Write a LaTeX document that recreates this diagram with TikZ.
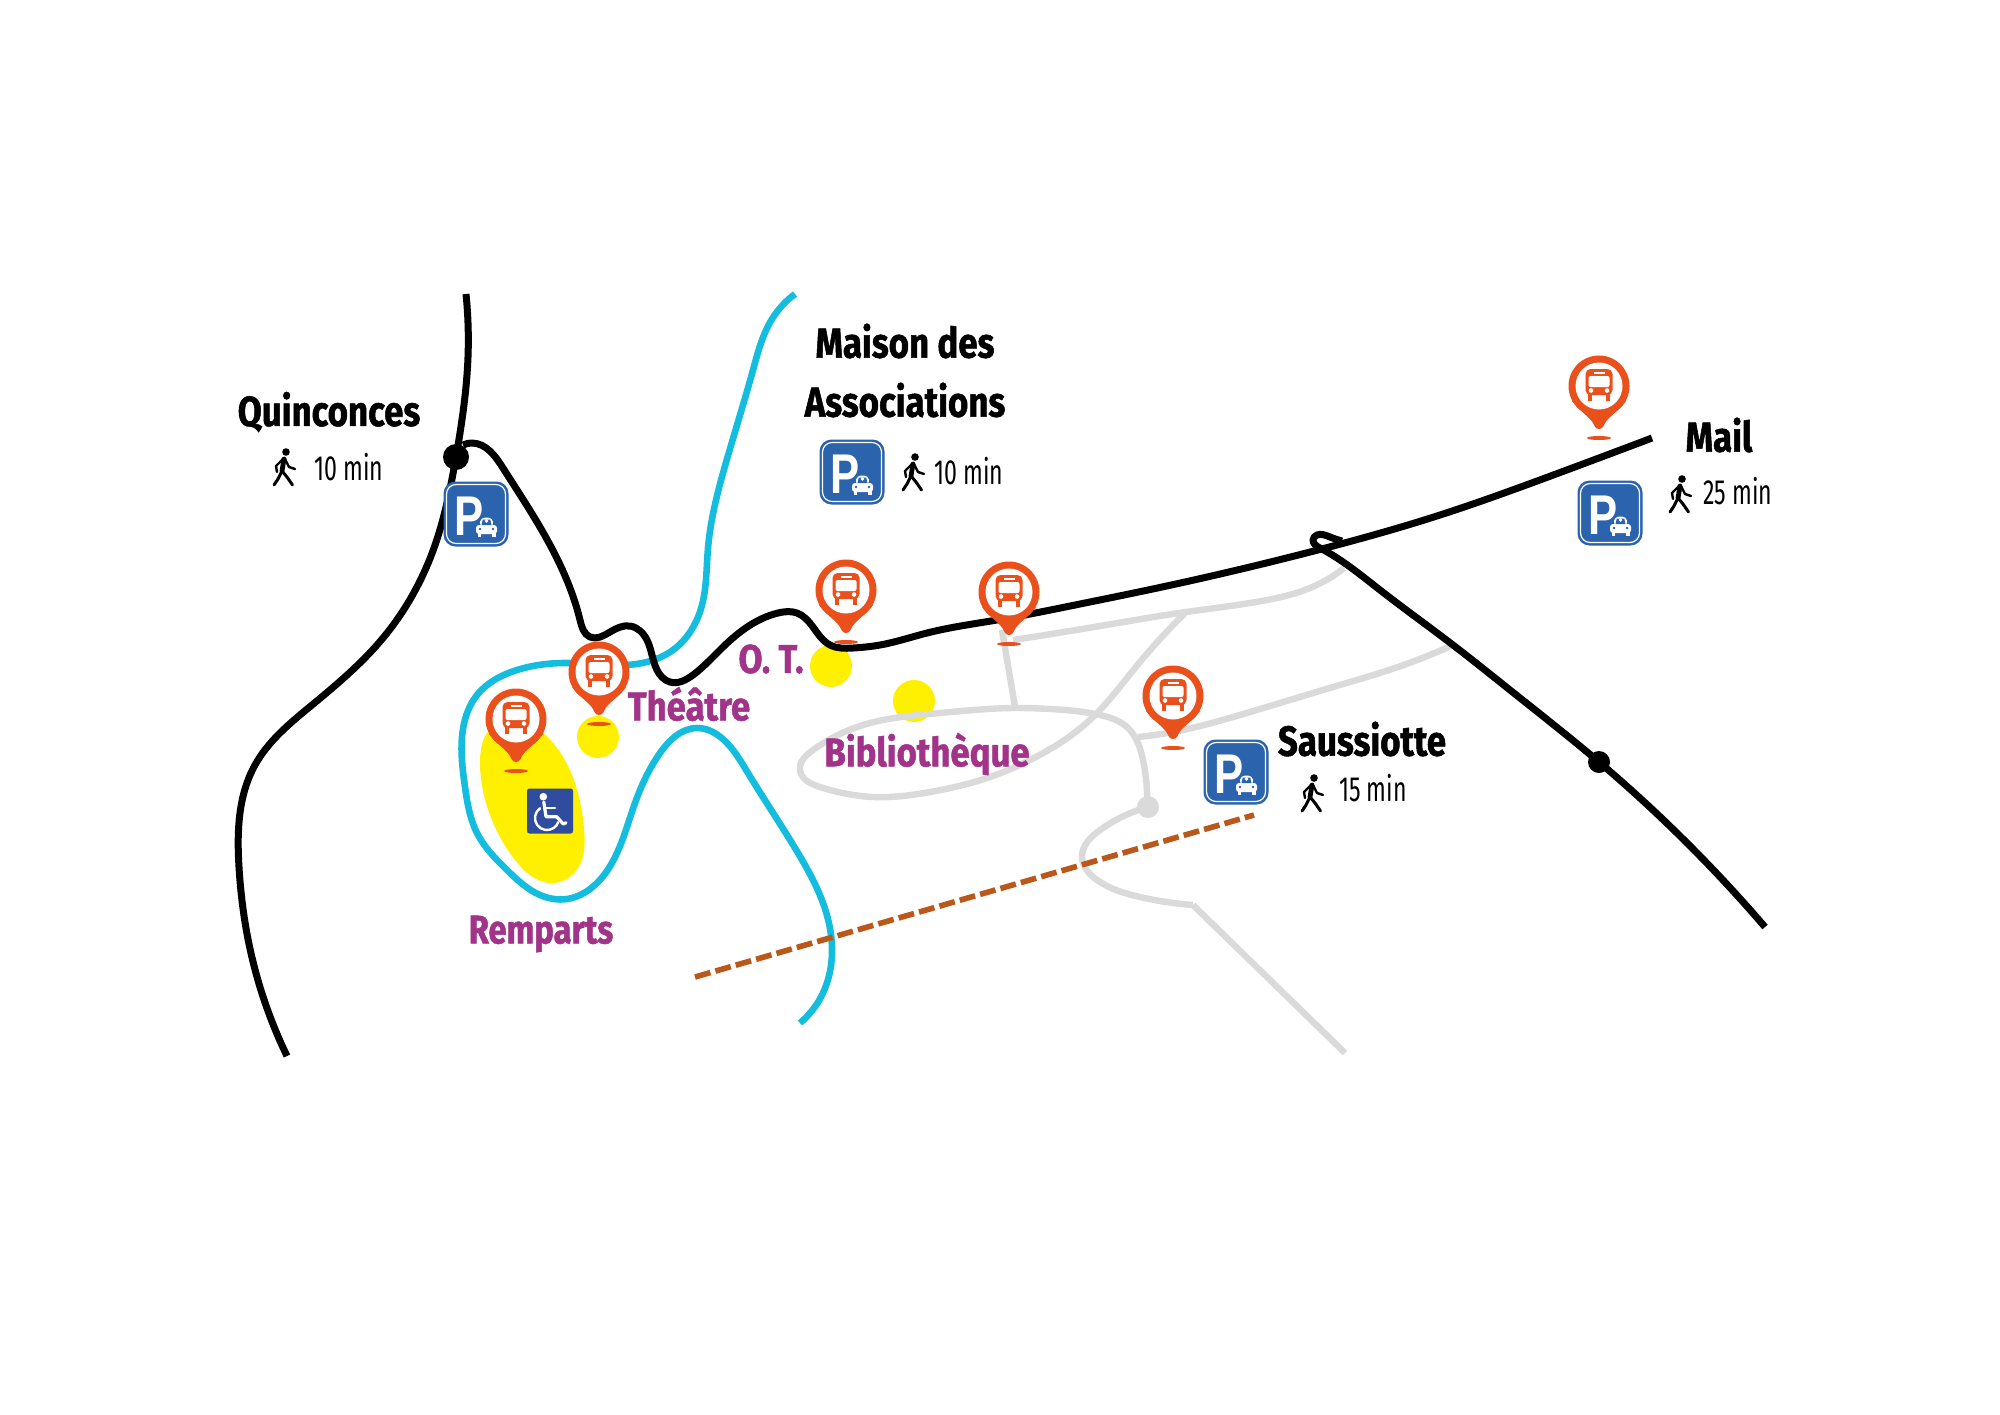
\documentclass[tikz,border=0pt]{standalone}
\usepackage{fontspec}
\usetikzlibrary{hobby}
\setmainfont{Fira Sans}
\newfontfamily\labfont[FakeStretch=0.83,BoldFeatures={FakeBold=1.2}]{Fira Sans}
\newfontfamily\poifont[FakeStretch=0.87,BoldFeatures={FakeBold=1.2}]{Fira Sans}
\newfontfamily\rempfont[FakeStretch=0.82,BoldFeatures={FakeBold=1.2}]{Fira Sans}
\newfontfamily\minfont[FakeStretch=0.66]{Fira Sans}
\newfontfamily\pfont[FakeStretch=0.78]{Liberation Sans}
\definecolor{riverblue}{HTML}{14BDDE}
\definecolor{roadgrey}{HTML}{DADADA}
\definecolor{sunyellow}{HTML}{FFF000}
\definecolor{pinred}{HTML}{E9501C}
\definecolor{plum}{HTML}{A13388}
\definecolor{parkblue}{HTML}{2C63AD}
\definecolor{chairblue}{HTML}{2F4C9F}
\definecolor{rust}{HTML}{B9581A}
\tikzset{
  road/.style={use Hobby shortcut,line width=3.5pt,black,line cap=butt,line join=round},
  river/.style={use Hobby shortcut,line width=3.3pt,riverblue,line join=round},
  lane/.style={use Hobby shortcut,line width=3.2pt,roadgrey,line join=round},
  place/.style={font=\labfont\bfseries\fontsize{21}{24}\selectfont,text=black,inner sep=0pt},
  poi/.style={font=\poifont\bfseries\fontsize{20}{23}\selectfont,text=plum,inner sep=0pt},
  minutes/.style={font=\minfont\fontsize{17.5}{20}\selectfont,text=black,inner sep=0pt},
  buspin/.pic={
    \fill[pinred] (-27,15) .. controls (-18,27) and (-8,31) .. (-4.5,40)
      .. controls (-3,44) and (3,44) .. (4.5,40)
      .. controls (8,31) and (18,27) .. (27,15) -- cycle;
    \fill[pinred] (0,0) circle[radius=30.5];
    \fill[white] (0,0) circle[radius=23.5];
    \fill[pinred] (0,52) ellipse[x radius=12,y radius=2];
    \fill[pinred,rounded corners=2.5pt] (-13.5,-17) rectangle (13.5,9);
    \fill[pinred] (-11,8) rectangle (-7,14.5);
    \fill[pinred] (7,8) rectangle (11,14.5);
    \fill[white] (-5.5,-14.5) rectangle (5.5,-12.5);
    \fill[white,rounded corners=1pt] (-10.5,-10) rectangle (10.5,1);
    \fill[white] (-8,4.5) circle[radius=2.3];
    \fill[white] (8,4.5) circle[radius=2.3];
  },
  parking/.pic={
    \fill[parkblue,rounded corners=6pt] (-32.5,-32.5) rectangle (32.5,32.5);
    \draw[white,line width=.6pt,rounded corners=4.8pt] (-29.5,-29.5) rectangle (29.5,29.5);
    \node[font=\pfont\bfseries\fontsize{28}{28}\selectfont,text=white,inner sep=0pt,anchor=base west] (-pletter) at (-21.5,21) {P};
    \fill[white,rounded corners=1.5pt] (0,11) rectangle (21,20);
    \fill[white,rounded corners=2pt] (3,12) -- (5,3.5) -- (16,3.5) -- (18,12) -- cycle;
    \fill[parkblue] (5.5,11) -- (6.8,5.5) -- (14.2,5.5) -- (15.5,11) -- cycle;
    \fill[white] (10.5,7) circle[radius=1.8];
    \fill[white] (1.5,19) rectangle (5,23);
    \fill[white] (16,19) rectangle (19.5,23);
    \fill[parkblue] (4,15) circle[radius=1.4];
    \fill[parkblue] (17,15) circle[radius=1.4];
  },
  walker/.pic={
    \fill[black] (0,0) circle[radius=3.8];
    \draw[black,line width=2.4pt,line cap=round,line join=round] (-2,7) -- (-4,19);
    \draw[black,line width=1.5pt,line cap=round,line join=round] (-4,19) -- (-8,27) -- (-12,33);
    \draw[black,line width=1.5pt,line cap=round,line join=round] (-4,19) -- (1,25) -- (6.5,33);
    \draw[black,line width=1.2pt,line cap=round,line join=round] (-3,7) -- (-10,14) -- (-9,20);
    \draw[black,line width=1.2pt,line cap=round,line join=round] (-1,7) -- (3,15) -- (9,17);
  },
  wheelsign/.pic={
    \fill[chairblue,rounded corners=1.2pt] (-23,-22.5) rectangle (23,22.5);
    \fill[white] (-6.7,-14.3) circle[radius=3.8];
    \draw[white,line width=1.6pt,line join=round,line cap=round] (-6.2,-9) -- (-4,5.7) -- (6.7,5.7) -- (13.3,13) -- (16,11.7);
    \draw[white,line width=1.3pt,line cap=round] (-5,-3) -- (5,-3);
    \draw[white,line width=1.2pt,line cap=round] (-9.9,-2.8) arc[start angle=235,end angle=20,radius=12];
  }
}
\begin{document}
\begin{tikzpicture}[x=0.5pt,y=-0.5pt]
\useasboundingbox (0,0) rectangle (2000,1414);
\fill[white] (0,0) rectangle (2000,1414);

% yellow areas
\fill[sunyellow,use Hobby shortcut,closed=true] (497,723) .. (480,763) .. (490,815) .. (515,860) .. (553,883) .. (578,868) .. (584,828) .. (572,775) .. (543,733) .. (517,720);
\fill[sunyellow] (598,737) circle[radius=21];
\fill[sunyellow] (831,666) circle[radius=21];
\fill[sunyellow] (914,701) circle[radius=21];

% river
\draw[river] (795,294) .. (772,319) .. (753,370) .. (727,459) .. (708,548) .. (702,605) .. (673,650) .. (627,665) .. (567,663) .. (517,670) .. (477,695) .. (462,737) .. (465,787) .. (477,833) .. (507,870) .. (540,895) .. (567,899) .. (597,883) .. (617,853) .. (635,803) .. (660,753) .. (697,728) .. (727,743) .. (748,773) .. (798,853) .. (823,903) .. (832,953) .. (822,995) .. (800,1023);

% grey lanes
\draw[lane] (1185,613) .. (1135,668) .. (1093,717) .. (1030,760) .. (987,778) .. (930,792) .. (873,797) .. (820,787) .. (800,770) .. (813,750) .. (857,727) .. (940,713) .. (1013,708) .. (1050,709) .. (1100,715) .. (1127,727) .. (1143,760) .. (1147,807);
\draw[lane] (1013,640) .. (1100,626) .. (1186,612) .. (1267,600) .. (1310,588) .. (1344,568);
\draw[lane] (1002,630) -- (1015,707);
\draw[lane] (1138,737) .. (1173,732) .. (1233,717) .. (1333,687) .. (1395,668) .. (1453,645);
\draw[lane] (1148,807) .. (1100,830) .. (1082,857) .. (1097,880) .. (1140,897) .. (1193,905);
\draw[lane] (1193,905) -- (1345,1053);
\fill[roadgrey] (1148,807) circle[radius=11];

% black roads
\draw[road] (466,294) .. (468,357) .. (456,457) .. (434,548) .. (383,638) .. (312,705) .. (255,765) .. (239,867) .. (249,944) .. (287,1056);
\draw[road] (463,445) .. (472,443) .. (503,468) .. (537,522) .. (580,620) .. (590,637) .. (610,632) .. (630,626) .. (647,640) .. (657,670) .. (670,682) .. (693,675) .. (723,647) .. (778,613) .. (797,613) .. (813,627) .. (830,645) .. (853,648) .. (880,645) .. (927,633) .. (997,620) .. (1080,604) .. (1148,590) .. (1233,571) .. (1314,551) .. (1440,515) .. (1556,474) .. (1652,438);
\draw[road] (1342,541) .. (1330,537) .. (1317,535) .. (1313,540) .. (1320,548) .. (1380,590) .. (1453,645) .. (1510,690) .. (1599,762) .. (1765,927);
\fill[black] (456,457) circle[radius=13];
\fill[black] (1599,762) circle[radius=11];

% dashed route
\coordinate (dashA) at (695,977);
\coordinate (dashB) at (1254,815);
\draw[rust,line width=2.8pt,dash pattern=on 8pt off 2.6pt] (dashA) -- (dashB);

% parking signs
\pic at (476,514) {parking};
\pic at (852,472) {parking};
\pic at (1236,772) {parking};
\pic at (1610,513) {parking};

% wheelchair
\pic at (550,811) {wheelsign};

% bus pins
\pic at (599,672) {buspin};
\pic at (516,719) {buspin};
\pic at (846,590) {buspin};
\pic at (1009,592) {buspin};
\pic at (1173,696) {buspin};
\pic at (1599,386) {buspin};

% walkers
\pic at (286,452) {walker};
\pic at (915,457) {walker};
\pic at (1314,778) {walker};
\pic at (1682,479) {walker};

% labels
\node[place] (quinconces) at (329,412) {Quinconces};
\node[minutes] (minA) at (349,467) {10 min};
\node[place] (maison) at (905,341) {Maison des};
\node[place] (assoc) at (905,400) {Associations};
\node[minutes] (minB) at (969,471) {10 min};
\node[place] (mail) at (1719,435) {Mail};
\node[minutes] (minC) at (1738,491) {25 min};
\node[place] (saussiotte) at (1362,739) {Saussiotte};
\node[minutes] (minD) at (1373,788) {15 min};
\node[poi] (ot) at (771,659) {O. T.};
\node[poi] (theatre) at (689,704) {Théâtre};
\node[poi] (biblio) at (927,754) {Bibliothèque};
\node[poi,font=\rempfont\bfseries\fontsize{20}{23}\selectfont] (remparts) at (541,934) {Remparts};
\end{tikzpicture}
\end{document}
